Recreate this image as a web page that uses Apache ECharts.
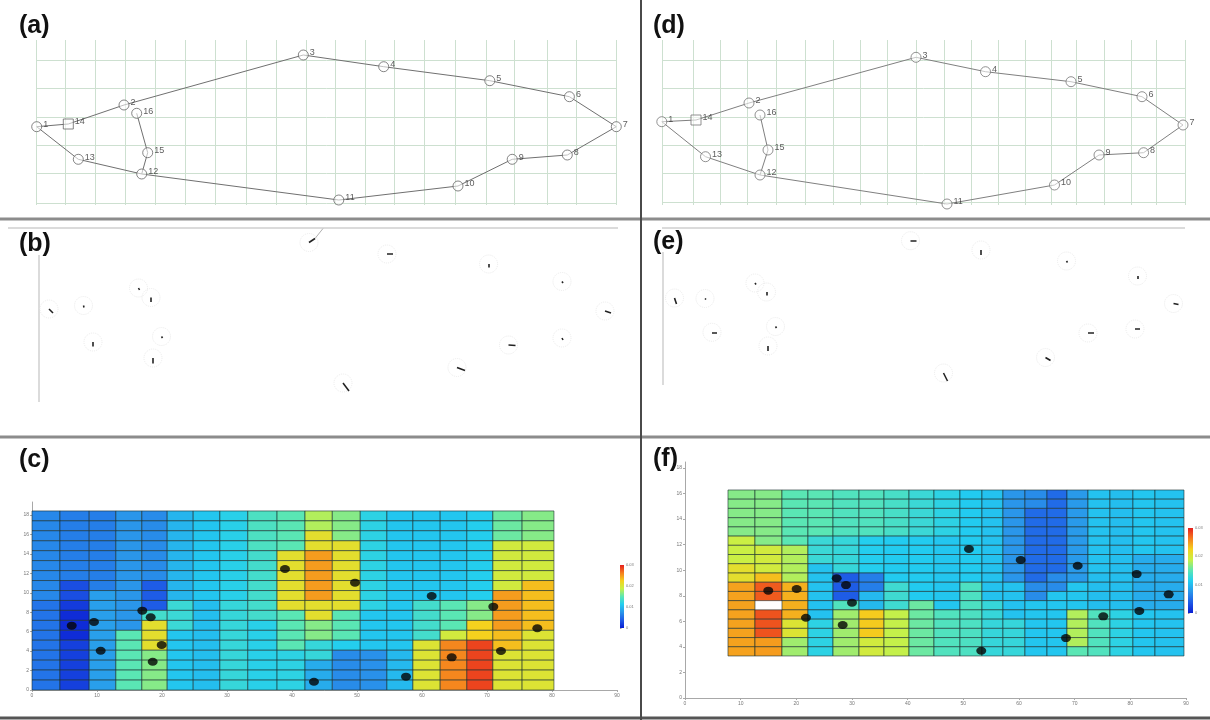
<!DOCTYPE html>
<html><head><meta charset="utf-8">
<script src="https://cdn.jsdelivr.net/npm/echarts@6/dist/echarts.min.js"></script>
<style>html,body{margin:0;padding:0;background:#fff}#c{width:1210px;height:720px}</style>
</head><body><div id="c"></div>
<script>
// ================= DATA =================
// target ids (same order as the point arrays)
const pointIds = [1,2,3,4,5,6,7,8,9,10,11,12,13,14,15,16];
// panel (a) / (d): target positions [x, y] (panel units, y downward)
const ptsA = [[3.67,12.67],[12.4,10.5],[30.33,5.5],[38.37,6.67],[48.98,8.07],[56.94,9.67],[61.63,12.67],[56.73,15.5],[51.22,15.93],[45.8,18.6],[33.88,20.0],[14.17,17.4],[7.83,15.93],[6.83,12.4],[14.77,15.27],[13.67,11.33]];
const ptsD = [[2.18,12.17],[10.9,10.3],[27.6,5.73],[34.55,7.17],[43.1,8.17],[50.2,9.67],[54.3,12.5],[50.36,15.27],[45.9,15.5],[41.45,18.5],[30.7,20.4],[12.0,17.5],[6.55,15.67],[5.6,12.0],[12.8,15.0],[12.0,11.5]];
const outlineOrder = [1,14,2,3,4,5,6,7,8,9,10,11,12,13,1];
const branchOrder = [16,15,12];
// deformed reference mesh lines
const meshAV = [3.67,6.5,9.5,12.5,15.5,18.5,21.5,24.67,27.67,30.67,33.5,36.5,39.4,42.4,45.5,48.6,51.4,54.7,57.6,61.6];
const meshAH = [6.0,8.8,11.7,14.5,17.3,20.3];
const meshAHSpan = [3.67,61.6];
const meshDV = [2.2,5.3,8.0,10.7,13.6,16.5,19.3,22.0,24.7,27.6,30.4,33.1,35.8,38.5,41.1,43.6,46.4,49.1,51.6,54.5];
const meshDH = [6.0,8.8,11.7,14.5,17.3,20.2];
const meshDHSpan = [2.2,54.5];
const meshVSpan = [4.0,20.5];

// panel (b) / (e): displacement vectors [x, y, dx, dy]
const vecB = [[4.9,9.0,0.4,0.4],[13.85,6.9,0.1,0.2],[30.9,2.35,0.6,-0.4],[38.7,3.5,0.6,0.0],[48.86,4.5,0.0,0.35],[56.2,6.25,0.1,0.15],[60.5,9.2,0.6,0.2],[56.2,11.9,0.1,0.2],[50.85,12.6,0.7,0.05],[45.7,14.85,0.8,0.3],[34.3,16.4,0.6,0.8],[15.3,13.9,0.0,0.55],[9.3,12.3,0.0,0.45],[8.35,8.65,0.05,0.2],[16.15,11.75,0.1,0.15],[15.1,7.85,0.0,0.45]];
const traceB = [[31.5,1.95,0.8,-1.0]];
const frameB = [[[0.8,0.9],[61.8,0.9]],[[3.9,3.6],[3.9,18.3]]];
const vecE = [[3.45,7.9,0.2,0.6],[11.5,6.4,0.1,0.15],[27.05,2.17,0.6,0.0],[34.1,3.1,0.0,0.5],[42.65,4.2,0.1,0.15],[49.75,5.7,0.0,0.3],[53.35,8.45,0.5,0.1],[49.5,11.0,0.5,0.0],[44.8,11.4,0.6,0.0],[40.55,13.85,0.5,0.3],[30.35,15.4,0.4,0.8],[12.8,12.7,0.0,0.5],[7.2,11.33,0.5,0.0],[6.5,7.95,0.1,0.1],[13.55,10.75,0.1,0.15],[12.65,7.3,0.0,0.35]];
const frameE = [[[2.2,0.9],[54.5,0.9]],[[2.25,3.3],[2.25,16.6]]];

// panel (c): strain field on 19 x 18 mesh (rows top->bottom)
const colEdgesC = [0,4.3,8.8,12.9,16.9,20.8,24.8,28.9,33.2,37.7,42.0,46.2,50.5,54.6,58.6,62.8,66.9,70.9,75.4,80.3];
const rowEdgesC = [18.42,17.40,16.38,15.35,14.33,13.31,12.28,11.26,10.23,9.21,8.19,7.16,6.14,5.12,4.09,3.07,2.05,1.02,0.0];
const fieldC = [
 [2.2,2.0,2.0,2.5,2.3,3.2,3.6,3.9,4.7,5.0,6.0,5.5,4.0,3.6,3.6,3.6,3.8,5.2,5.5],
 [2.2,2.0,2.0,2.5,2.3,3.2,3.6,3.9,4.7,5.0,6.0,5.5,4.0,3.6,3.6,3.6,3.8,5.2,5.5],
 [2.2,2.0,2.0,2.5,2.3,3.2,3.6,3.9,4.7,5.0,7.0,5.5,4.0,3.6,3.6,3.6,3.8,5.2,5.5],
 [2.2,2.0,2.0,2.5,2.3,3.2,3.6,3.9,4.7,5.0,7.0,7.0,4.0,3.6,3.6,3.6,3.8,6.5,6.5],
 [2.2,2.0,2.0,2.5,2.3,3.2,3.6,3.9,4.5,7.0,8.3,7.0,4.0,3.6,3.6,3.6,3.8,6.5,6.5],
 [2.2,2.0,2.0,2.5,2.3,3.2,3.6,3.9,4.5,7.0,8.3,7.0,4.0,3.6,3.6,3.6,3.8,6.5,6.5],
 [2.2,2.0,2.0,2.5,2.3,3.2,3.6,3.9,4.5,7.0,8.3,7.0,4.0,3.6,3.6,3.6,3.8,6.5,6.5],
 [2.2,1.0,2.0,2.5,1.3,3.2,3.6,3.9,4.5,7.0,8.3,7.0,4.0,3.6,3.6,3.6,3.8,6.5,7.8],
 [2.2,1.0,2.7,2.5,1.3,3.2,3.6,3.9,4.5,7.0,8.3,7.0,4.0,3.6,3.6,3.6,3.8,8.3,7.8],
 [1.8,0.6,2.7,2.5,1.3,4.3,3.4,4.2,4.5,7.0,7.0,7.0,4.0,3.6,4.5,5.0,5.5,8.3,7.8],
 [1.8,0.3,2.7,2.5,4.5,4.3,3.4,4.2,4.5,5.0,7.0,5.0,3.6,3.6,4.5,5.0,5.5,8.3,7.8],
 [1.8,0.3,2.7,2.5,7.0,4.3,3.4,4.2,3.9,5.0,5.5,5.0,3.6,3.6,4.5,5.0,7.5,8.3,7.8],
 [1.8,0.3,2.7,5.0,7.0,3.6,3.4,4.2,3.9,5.0,5.5,5.0,3.6,3.6,4.5,6.5,7.5,7.8,6.8],
 [1.8,0.7,2.7,5.0,7.0,3.6,3.4,4.2,3.9,5.0,4.2,3.8,3.6,3.6,6.8,8.6,9.5,7.8,6.8],
 [1.8,0.7,2.7,5.0,5.5,3.6,3.4,4.2,3.9,4.0,4.2,2.3,2.4,3.3,6.8,8.6,9.5,6.8,6.8],
 [1.8,0.7,2.7,5.0,5.5,3.6,3.4,4.2,3.9,4.0,3.0,2.3,2.4,3.3,6.8,8.6,9.5,6.8,6.8],
 [1.8,0.7,2.7,5.0,5.5,3.6,3.4,4.2,3.9,4.0,3.0,2.3,2.4,3.3,6.8,8.6,9.5,6.8,6.8],
 [1.8,0.7,2.7,5.0,5.5,3.6,3.4,4.2,3.9,4.0,3.0,2.3,2.4,3.3,6.8,8.6,9.5,6.8,6.8]
];
const dotsC = [[6.11,6.62],[9.54,7.0],[10.57,4.04],[16.97,8.16],[18.26,7.48],[19.95,4.63],[18.57,2.91],[38.92,12.45],[43.38,0.85],[49.69,11.04],[61.49,9.67],[70.97,8.57],[77.74,6.35],[64.57,3.36],[72.15,4.01],[57.54,1.37]];

// panel (f)
const colEdgesF = [7.72,12.57,17.42,22.09,26.59,31.26,35.75,40.24,44.73,49.40,53.35,57.12,61.07,65.03,68.62,72.39,76.34,80.47,84.43,89.64];
const rowEdgesF = [16.28,15.56,14.84,14.11,13.39,12.67,11.95,11.23,10.51,9.78,9.06,8.34,7.62,6.90,6.17,5.45,4.73,4.01,3.29];
const fieldF = [
 [5.5,5.5,5.0,5.0,4.8,4.8,4.6,4.3,4.0,3.7,3.5,2.5,2.3,1.6,2.6,3.5,3.4,3.6,3.5],
 [5.5,5.5,5.0,5.0,4.8,4.8,4.6,4.3,4.0,3.7,3.5,2.5,2.3,1.6,2.6,3.5,3.4,3.6,3.5],
 [5.5,5.5,5.0,5.0,4.8,4.8,4.6,4.3,4.0,3.7,3.5,2.5,1.6,1.6,2.6,3.5,3.4,3.6,3.5],
 [5.5,5.5,5.0,5.0,4.8,4.8,4.6,4.3,4.0,3.7,3.5,2.5,1.6,1.6,2.6,3.5,3.4,3.6,3.5],
 [5.5,5.5,5.0,5.0,4.8,4.8,4.6,4.3,4.0,3.7,3.5,2.5,1.6,1.6,2.6,3.5,3.4,3.6,3.5],
 [6.3,5.5,5.0,4.3,4.2,3.8,3.7,3.7,3.6,3.7,3.5,2.5,1.6,1.6,2.6,3.5,3.4,3.6,3.5],
 [6.3,6.5,6.0,4.3,4.2,3.8,3.7,3.7,3.6,3.7,3.5,2.5,1.6,1.6,2.6,3.5,3.4,3.6,3.5],
 [6.3,6.5,6.0,4.3,4.2,3.8,3.7,3.7,3.6,3.7,3.5,2.5,1.6,1.6,2.6,3.5,3.4,3.0,3.0],
 [7.0,6.5,6.0,3.5,4.2,3.8,3.7,3.7,3.6,3.7,3.5,2.5,1.6,1.6,2.6,3.5,3.4,3.0,3.0],
 [7.0,7.8,6.0,3.5,1.3,2.0,3.7,3.7,3.6,3.7,3.5,2.5,1.6,2.3,2.6,3.4,3.4,3.0,3.0],
 [8.2,9.2,8.0,3.5,1.3,2.0,4.4,3.7,3.6,4.7,3.5,3.5,2.3,2.3,3.6,3.4,3.4,3.0,3.0],
 [8.2,9.2,8.0,3.5,1.3,3.3,4.4,3.7,3.6,4.7,3.5,3.5,2.3,3.6,3.6,3.4,3.4,3.0,3.0],
 [8.2,null,8.0,3.5,4.8,3.3,4.4,5.2,3.6,4.7,4.2,3.5,3.6,3.6,3.6,3.4,3.4,3.0,3.0],
 [8.2,9.3,8.0,3.5,5.8,7.6,6.2,5.2,4.8,4.7,4.2,3.5,3.6,3.6,6.0,4.8,4.0,3.6,3.5],
 [8.2,9.3,6.8,4.0,5.8,7.6,6.2,5.2,4.8,4.7,4.2,4.2,3.6,3.6,6.0,4.8,4.0,3.6,3.5],
 [8.2,9.3,6.8,4.0,5.8,7.6,6.2,5.2,4.8,4.7,4.2,4.2,3.6,3.6,6.0,4.8,4.0,3.6,3.5],
 [8.2,8.3,5.8,4.0,5.8,6.5,6.2,5.2,4.8,4.7,4.2,4.2,3.6,3.6,6.0,4.8,4.0,3.6,3.5],
 [8.2,8.3,5.8,4.0,5.8,6.5,6.2,5.2,4.8,4.7,4.2,4.2,3.6,3.6,5.0,4.8,4.0,3.6,3.5]
];
const dotsF = [[14.96,8.40],[20.06,8.53],[21.73,6.28],[27.25,9.37],[28.92,8.84],[30.0,7.46],[28.33,5.71],[51.01,11.66],[60.30,10.80],[70.54,10.35],[81.14,9.70],[86.89,8.11],[81.61,6.81],[75.14,6.39],[68.44,4.69],[53.22,3.70]];

// tick labels
const xTickLabels = ['0','10','20','30','40','50','60','70','80','90'];
const yTickLabels = ['0','2','4','6','8','10','12','14','16','18'];
const cbLabelsC = ['0','0.01','0.02','0.03'];
const cbLabelsF = ['0','0.01','0.02','0.03'];
const panelLabels = ['(a)','(b)','(c)','(d)','(e)','(f)'];

// ================= STYLE / BUILD =================
const jetColors = ['#0a1ed2','#1e5ae6','#2a96ea','#22cdf0','#5ae6b4','#c8f046','#f5d21e','#f57d1e','#e61e1e'];
const FONT = 'Liberation Sans, Arial, sans-serif';

function meshSegments(vx, hy, hSpan) {
  const segs = [];
  vx.forEach(x => segs.push({coords: [[x, meshVSpan[0]], [x, meshVSpan[1]]]}));
  hy.forEach(y => segs.push({coords: [[hSpan[0], y], [hSpan[1], y]]}));
  return segs;
}
function vecSegments(vs) { return vs.map(v => ({coords: [[v[0], v[1]], [v[0] + v[2], v[1] + v[3]]]})); }
function ordered(pts, order) { return order.map(id => pts[pointIds.indexOf(id)]); }
function cellData(field) {
  const out = [];
  field.forEach((row, r) => row.forEach((v, c) => out.push([c, r, v])));
  return out;
}
function cellRenderer(colEdges, rowEdges) {
  return function (params, api) {
    const c = api.value(0), r = api.value(1), v = api.value(2);
    if (v == null || isNaN(v)) return null;
    const p1 = api.coord([colEdges[c], rowEdges[r]]);
    const p2 = api.coord([colEdges[c + 1], rowEdges[r + 1]]);
    return {type: 'rect', shape: {x: p1[0], y: p1[1], width: p2[0] - p1[0], height: p2[1] - p1[1]},
      style: {fill: api.visual('color'), stroke: 'rgba(25,45,45,0.85)', lineWidth: 0.7}};
  };
}
function colorbarRenderer(params) {
  const cs = params.coordSys;
  const stops = jetColors.slice().reverse().map((c, i, a) => ({offset: i / (a.length - 1), color: c}));
  return {type: 'rect', shape: {x: cs.x, y: cs.y, width: cs.width, height: cs.height},
    style: {fill: new echarts.graphic.LinearGradient(0, 0, 0, 1, stops)}};
}

const hiddenX = (g, max) => ({gridIndex: g, type: 'value', min: 0, max: max, show: false});
const hiddenY = (g, max) => ({gridIndex: g, type: 'value', min: 0, max: max, show: false, inverse: true});
const axisStyle = {axisLine: {show: true, onZero: false, lineStyle: {color: '#a8a8a8', width: 1}},
  axisTick: {show: true, length: 2, lineStyle: {color: '#a8a8a8'}}, splitLine: {show: false}};
function labAxisX(g) {
  return Object.assign({gridIndex: g, type: 'value', min: 0, max: 90, interval: 10,
    axisLabel: {fontSize: 5, color: '#777', margin: 3, formatter: v => xTickLabels[Math.round(v / 10)]}}, axisStyle);
}
function labAxisY(g, max) {
  return Object.assign({gridIndex: g, type: 'value', min: 0, max: max, interval: 2,
    axisLabel: {fontSize: 5, color: '#777', margin: 3, showMaxLabel: false, formatter: v => yTickLabels[Math.round(v / 2)] || ''}}, axisStyle);
}
function cbAxisY(g, labels) {
  return {gridIndex: g, type: 'value', min: 0, max: 3, interval: 1, position: 'right',
    axisLine: {show: false}, axisTick: {show: true, length: 1.5, lineStyle: {color: '#999'}}, splitLine: {show: false},
    axisLabel: {fontSize: 4, color: '#777', margin: 2, formatter: v => labels[Math.round(v)]}};
}

function pointsSeries(g, pts, border) {
  return {type: 'scatter', xAxisIndex: g, yAxisIndex: g, z: 5,
    data: pts.map((p, i) => ({value: p, name: String(pointIds[i]), symbol: pointIds[i] === 14 ? 'rect' : 'circle'})),
    symbolSize: 10,
    itemStyle: {color: 'rgba(255,255,255,0.7)', borderColor: border, borderWidth: 1},
    label: {show: true, formatter: p => p.name, position: 'right', distance: 1, offset: [0, -2],
      fontSize: 9, color: '#333', fontFamily: FONT}};
}
function lineSeries(g, data, color) {
  return {type: 'line', xAxisIndex: g, yAxisIndex: g, data: data, symbol: 'none', z: 4,
    lineStyle: {color: color, width: 1}};
}
function linesSeries(g, data, color, width, z) {
  return {type: 'lines', coordinateSystem: 'cartesian2d', xAxisIndex: g, yAxisIndex: g, data: data, z: z || 2,
    lineStyle: {color: color, width: width, opacity: 1}, effect: {show: false}};
}
function ringSeries(g, vs) {
  return {type: 'scatter', xAxisIndex: g, yAxisIndex: g, data: vs.map(v => [v[0], v[1]]), symbol: 'circle', symbolSize: 18, z: 1,
    itemStyle: {color: 'rgba(0,0,0,0)', borderColor: '#e6e6e6', borderWidth: 1, borderType: 'dotted'}};
}

const series = [
  linesSeries(0, meshSegments(meshAV, meshAH, meshAHSpan), '#cde0d0', 1, 1),
  lineSeries(0, ordered(ptsA, outlineOrder), '#707070'),
  lineSeries(0, ordered(ptsA, branchOrder), '#707070'),
  pointsSeries(0, ptsA, '#666'),
  linesSeries(1, meshSegments(meshDV, meshDH, meshDHSpan), '#cde0d0', 1, 1),
  lineSeries(1, ordered(ptsD, outlineOrder), '#808080'),
  lineSeries(1, ordered(ptsD, branchOrder), '#808080'),
  pointsSeries(1, ptsD, '#777'),
  linesSeries(2, frameB, '#cfcfcf', 1.5, 1),
  ringSeries(2, vecB),
  linesSeries(2, vecSegments(traceB), '#b0b0b0', 1, 2),
  linesSeries(2, vecSegments(vecB), '#222', 1.6, 3),
  linesSeries(3, frameE, '#cfcfcf', 1.5, 1),
  ringSeries(3, vecE),
  linesSeries(3, vecSegments(vecE), '#222', 1.6, 3),
  {type: 'custom', id: 'heatC', xAxisIndex: 4, yAxisIndex: 4, data: cellData(fieldC), renderItem: cellRenderer(colEdgesC, rowEdgesC), z: 2},
  {type: 'scatter', xAxisIndex: 4, yAxisIndex: 4, data: dotsC, symbol: 'circle', symbolSize: [10, 8], itemStyle: {color: '#050505'}, z: 5},
  {type: 'custom', id: 'heatF', xAxisIndex: 5, yAxisIndex: 5, data: cellData(fieldF), renderItem: cellRenderer(colEdgesF, rowEdgesF), z: 2},
  {type: 'scatter', xAxisIndex: 5, yAxisIndex: 5, data: dotsF, symbol: 'circle', symbolSize: [10, 8], itemStyle: {color: '#050505'}, z: 5},
  {type: 'custom', xAxisIndex: 6, yAxisIndex: 6, data: [[0, 0]], renderItem: colorbarRenderer},
  {type: 'custom', xAxisIndex: 7, yAxisIndex: 7, data: [[0, 0]], renderItem: colorbarRenderer}
];
const heatIdx = [series.findIndex(s => s.id === 'heatC'), series.findIndex(s => s.id === 'heatF')];

const titlePos = [[19, 14], [19, 232], [19, 448], [653, 14], [653, 230], [653, 447]];
const titles = panelLabels.map((t, i) => ({text: t, left: titlePos[i][0], top: titlePos[i][1], padding: 0,
  textStyle: {fontSize: 25, fontWeight: 'bold', fontFamily: FONT, color: '#111'}}));

const option = {
  animation: false,
  backgroundColor: '#fff',
  title: titles,
  grid: [
    {left: 0, top: 0, width: 640, height: 219},
    {left: 640, top: 0, width: 570, height: 219},
    {left: 0, top: 219, width: 640, height: 217},
    {left: 640, top: 219, width: 570, height: 217},
    {left: 32, top: 502, width: 585, height: 188},
    {left: 685, top: 462, width: 501, height: 236},
    {left: 620, top: 565, width: 4, height: 63},
    {left: 1188, top: 528, width: 5, height: 85}
  ],
  xAxis: [hiddenX(0, 64), hiddenX(1, 57), hiddenX(2, 64), hiddenX(3, 57), labAxisX(4), labAxisX(5), hiddenX(6, 1), hiddenX(7, 1)],
  yAxis: [hiddenY(0, 21.9), hiddenY(1, 21.9), hiddenY(2, 21.7), hiddenY(3, 21.7), labAxisY(4, 19.34), labAxisY(5, 18.47), cbAxisY(6, cbLabelsC), cbAxisY(7, cbLabelsF)],
  visualMap: [{type: 'continuous', show: false, min: 0, max: 10, dimension: 2, seriesIndex: heatIdx, inRange: {color: jetColors}}],
  graphic: [
    {type: 'line', shape: {x1: 0, y1: 219, x2: 1210, y2: 219}, style: {stroke: '#8c8c8c', lineWidth: 3}, z: 100},
    {type: 'line', shape: {x1: 0, y1: 437, x2: 1210, y2: 437}, style: {stroke: '#8c8c8c', lineWidth: 3}, z: 100},
    {type: 'line', shape: {x1: 0, y1: 718, x2: 1210, y2: 718}, style: {stroke: '#555', lineWidth: 3}, z: 100},
    {type: 'line', shape: {x1: 641, y1: 0, x2: 641, y2: 720}, style: {stroke: '#4a4a4a', lineWidth: 2}, z: 100}
  ],
  series: series
};
const chart = echarts.init(document.getElementById('c'), null, {renderer: 'canvas'});
chart.setOption(option);
</script>
</body></html>
